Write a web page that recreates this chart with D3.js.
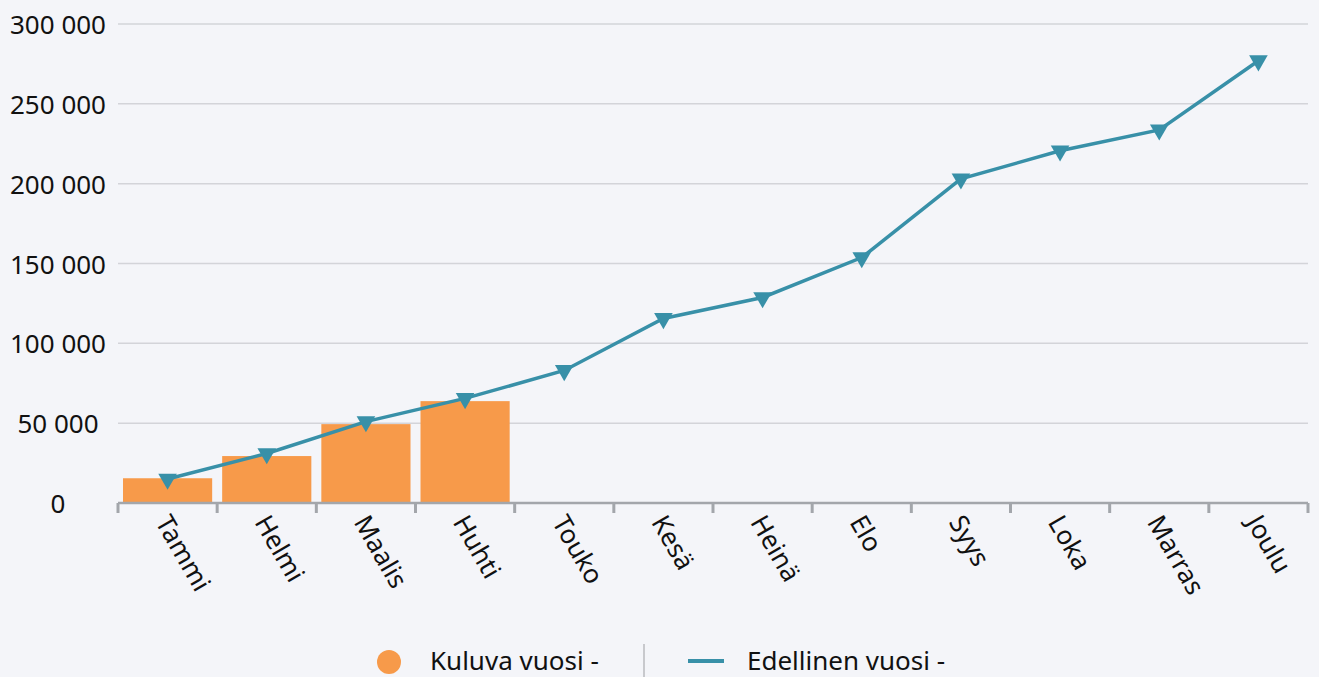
<!DOCTYPE html>
<html>
<head>
<meta charset="utf-8">
<script src="https://cdn.jsdelivr.net/npm/d3@7"></script>
<style>
  html, body { margin: 0; padding: 0; background: #f4f5f9; }
  #graph { width: 1319px; height: 677px; }
  text { font-family: "Noto Sans", "Open Sans", sans-serif; fill: #111; }
</style>
</head>
<body>
<div id="graph"></div>
<script>
const months = ["Tammi", "Helmi", "Maalis", "Huhti", "Touko", "Kesä", "Heinä", "Elo", "Syys", "Loka", "Marras", "Joulu"];
const currentYear = [15500, 29400, 49400, 63800];
const previousYear = [15000, 31000, 51000, 65500, 83000, 115600, 128700, 153700, 203000, 220600, 233700, 277000];
const yTicks = [0, 50000, 100000, 150000, 200000, 250000, 300000];
const legendLabels = ["Kuluva vuosi -", "Edellinen vuosi -"];

function chart() {
  const layout = { top: 24, right: 11, bottom: 174, left: 118 };
  const width = 1319 - layout.left - layout.right;
  const height = 677 - layout.top - layout.bottom;
  const fontSize = "26px";
  const colors = {
    bar: "#f79a4a",
    line: "#3890a8",
    grid: "#d3d4d9",
    axis: "#a3a6ab"
  };
  const fmt = d3.formatLocale({ decimal: ",", thousands: " ", grouping: [3], currency: ["", ""] }).format(",d");

  const svg = d3.select("#graph")
    .append("svg")
    .attr("width", 1319)
    .attr("height", 677);
  const g = svg.append("g")
    .attr("transform", "translate(" + layout.left + "," + layout.top + ")");

  const xOuter = d3.scaleBand().domain(months).range([0, width]);
  const y = d3.scaleLinear().domain([0, 300000]).range([height, 0]);

  // grid
  g.selectAll("line.grid")
    .data(yTicks.filter(d => d > 0))
    .enter()
    .append("line")
    .attr("class", "grid")
    .attr("x1", 0)
    .attr("x2", width)
    .attr("y1", d => y(d))
    .attr("y2", d => y(d))
    .attr("stroke", colors.grid)
    .attr("stroke-width", 1.5);

  // y labels
  g.selectAll("text.ylab")
    .data(yTicks)
    .enter()
    .append("text")
    .attr("class", "ylab")
    .attr("x", -60)
    .attr("y", d => y(d))
    .attr("text-anchor", "middle")
    .attr("dominant-baseline", "central")
    .style("font-size", fontSize)
    .text(d => fmt(d));

  // bars
  g.selectAll("rect.bar")
    .data(currentYear)
    .enter()
    .append("rect")
    .attr("class", "bar")
    .attr("x", (d, i) => xOuter(months[i]) + 5)
    .attr("width", xOuter.bandwidth() - 10)
    .attr("y", d => y(d))
    .attr("height", d => height - y(d))
    .attr("fill", colors.bar);

  // x axis
  const axis = g.append("g").attr("transform", "translate(0," + height + ")");
  axis.append("line")
    .attr("x1", 0).attr("x2", width)
    .attr("stroke", colors.axis).attr("stroke-width", 2.5);
  axis.selectAll("line.tick")
    .data(months.concat(["end"]))
    .enter()
    .append("line")
    .attr("class", "tick")
    .attr("x1", (d, i) => i * xOuter.step())
    .attr("x2", (d, i) => i * xOuter.step())
    .attr("y1", 0)
    .attr("y2", 10)
    .attr("stroke", colors.axis)
    .attr("stroke-width", 3);
  axis.selectAll("text.xlab")
    .data(months)
    .enter()
    .append("text")
    .attr("class", "xlab")
    .attr("transform", d => "translate(" + (xOuter(d) + xOuter.bandwidth() / 2 + 3) + ",10) rotate(60)")
    .attr("dy", "0.7em")
    .style("font-size", fontSize)
    .text(d => d);

  // line
  const cx = i => xOuter(months[i]) + xOuter.bandwidth() / 2;
  const line = d3.line().x((d, i) => cx(i)).y(d => y(d));
  g.append("path")
    .datum(previousYear)
    .attr("d", line)
    .attr("fill", "none")
    .attr("stroke", colors.line)
    .attr("stroke-width", 3.5);
  const tri = d3.symbol().type(d3.symbolTriangle).size(150);
  g.selectAll("path.marker")
    .data(previousYear)
    .enter()
    .append("path")
    .attr("class", "marker")
    .attr("d", tri)
    .attr("transform", (d, i) => "translate(" + cx(i) + "," + y(d) + ") rotate(180)")
    .attr("fill", colors.line);

  // legend
  const legend = svg.append("g");
  legend.append("circle").attr("cx", 389).attr("cy", 662).attr("r", 12).attr("fill", colors.bar);
  legend.append("text").attr("x", 430).attr("y", 670)
    .style("font-size", fontSize).text(legendLabels[0]);
  legend.append("line").attr("x1", 644).attr("x2", 644).attr("y1", 644).attr("y2", 677)
    .attr("stroke", "#c8c9cd").attr("stroke-width", 2);
  legend.append("line").attr("x1", 688).attr("x2", 724).attr("y1", 661).attr("y2", 661)
    .attr("stroke", colors.line).attr("stroke-width", 4);
  legend.append("text").attr("x", 747).attr("y", 670)
    .style("font-size", fontSize).text(legendLabels[1]);
}

chart();
</script>
</body>
</html>
